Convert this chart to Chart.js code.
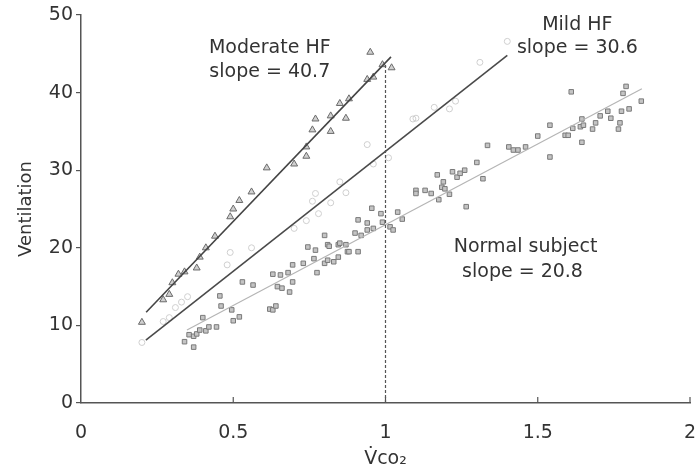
<!DOCTYPE html>
<html>
<head>
<meta charset="utf-8">
<script src="https://cdn.jsdelivr.net/npm/chart.js"></script>
<style>
  html, body { margin: 0; padding: 0; background: #fff; }
  #wrap { width: 698px; height: 474px; }
</style>
</head>
<body>
<div id="wrap"><canvas id="vePlot"></canvas></div>
<script>
  // points: [VCO2, ventilation]
  const moderateHF = [[0.20,10.4],[0.27,13.3],[0.29,14.0],[0.30,15.5],[0.32,16.6],[0.34,16.9],[0.38,17.4],[0.39,18.8],[0.41,20.0],[0.44,21.5],[0.49,24.0],[0.50,25.0],[0.52,26.1],[0.56,27.2],[0.61,30.3],[0.70,30.8],[0.74,31.8],[0.74,33.0],[0.76,35.2],[0.77,36.6],[0.82,37.0],[0.82,35.0],[0.87,36.7],[0.85,38.6],[0.88,39.2],[0.94,41.7],[0.96,42.0],[0.95,45.2],[0.99,43.6],[1.02,43.2]];
  const mildHF = [[0.20,7.8],[0.27,10.5],[0.29,11.0],[0.31,12.3],[0.33,13.0],[0.35,13.7],[0.48,17.8],[0.49,19.4],[0.56,20.0],[0.70,22.5],[0.74,23.5],[0.76,26.0],[0.77,27.0],[0.78,24.4],[0.82,25.8],[0.85,28.5],[0.87,27.1],[0.94,33.3],[0.96,30.8],[1.01,31.6],[1.09,36.6],[1.10,36.7],[1.16,38.1],[1.21,37.9],[1.23,38.9],[1.31,43.9],[1.40,46.6]];
  const normalSubject = [[0.34,7.9],[0.37,7.2],[0.355,8.8],[0.37,8.6],[0.38,8.9],[0.39,9.4],[0.41,9.3],[0.42,9.8],[0.445,9.8],[0.40,11.0],[0.456,13.8],[0.46,12.5],[0.495,12.0],[0.50,10.6],[0.52,11.1],[0.53,15.6],[0.565,15.2],[0.62,12.1],[0.63,12.0],[0.64,12.5],[0.63,16.6],[0.655,16.5],[0.68,16.8],[0.645,15.0],[0.66,14.8],[0.685,14.3],[0.695,17.8],[0.695,15.6],[0.73,18.0],[0.745,20.1],[0.77,19.7],[0.765,18.6],[0.775,16.8],[0.80,18.0],[0.81,18.4],[0.83,18.2],[0.845,18.8],[0.81,20.4],[0.845,20.4],[0.87,20.4],[0.80,21.6],[0.875,19.5],[0.85,20.6],[0.88,19.5],[0.91,19.5],[0.815,20.2],[0.90,21.9],[0.92,21.6],[0.94,22.3],[0.94,23.2],[0.96,22.5],[0.91,23.6],[0.955,25.1],[0.985,24.4],[1.04,24.6],[1.055,23.7],[1.015,22.7],[1.025,22.3],[0.99,23.3],[1.10,27.4],[1.10,27.0],[1.13,27.4],[1.15,27.0],[1.17,29.4],[1.175,26.2],[1.19,28.5],[1.185,27.8],[1.195,27.6],[1.21,26.9],[1.22,29.8],[1.235,29.1],[1.245,29.6],[1.26,30.0],[1.265,25.3],[1.30,31.0],[1.32,28.9],[1.335,33.2],[1.405,33.0],[1.42,32.6],[1.435,32.6],[1.46,33.0],[1.50,34.4],[1.54,35.8],[1.54,31.7],[1.59,34.5],[1.60,34.5],[1.61,40.1],[1.615,35.4],[1.64,35.6],[1.645,36.6],[1.65,35.8],[1.645,33.6],[1.68,35.3],[1.69,36.1],[1.705,37.0],[1.73,37.6],[1.74,36.7],[1.765,35.3],[1.77,36.1],[1.775,37.6],[1.80,37.9],[1.78,39.9],[1.79,40.8],[1.84,38.9]];

  // regression line end points
  const moderateFit = [[0.214,11.7],[1.018,44.6]];
  const mildFit = [[0.213,8.1],[1.40,44.8]];
  const normalFit = [[0.348,9.4],[1.842,40.5]];
  const thresholdLine = [[1.0,0],[1.0,43.6]];

  const xTicks = [0, 0.5, 1, 1.5, 2];
  const labels = [
    { x: 0.62, y: 45.8, text: 'Moderate HF' },
    { x: 0.62, y: 42.6, text: 'slope = 40.7' },
    { x: 1.63, y: 48.7, text: 'Mild HF' },
    { x: 1.63, y: 45.8, text: 'slope = 30.6' },
    { x: 1.46, y: 20.1, text: 'Normal subject' },
    { x: 1.45, y: 16.9, text: 'slope = 20.8' }
  ];

  const toXY = arr => arr.map(p => ({ x: p[0], y: p[1] }));
  const FONT = 'DejaVu Sans';
  const TXT = '#333';

  // text labels and inward x ticks, placed through the scales
  const extras = {
    id: 'extras',
    afterDraw(chart) {
      const { ctx, scales } = chart;
      ctx.save();
      ctx.strokeStyle = '#555';
      ctx.lineWidth = 1.2;
      xTicks.forEach(v => {
        if (v === 0) return;
        const px = scales.x.getPixelForValue(v);
        const py = scales.y.getPixelForValue(0);
        ctx.beginPath();
        ctx.moveTo(px, py);
        ctx.lineTo(px, py - 6);
        ctx.stroke();
      });
      ctx.fillStyle = TXT;
      ctx.font = '19px "' + FONT + '"';
      ctx.textAlign = 'center';
      ctx.textBaseline = 'middle';
      labels.forEach(l => {
        ctx.fillText(l.text, scales.x.getPixelForValue(l.x), scales.y.getPixelForValue(l.y));
      });
      ctx.restore();
    }
  };

  const lineDs = (pts, color, width, dash) => ({
    type: 'line',
    data: toXY(pts),
    borderColor: color,
    borderWidth: width,
    borderDash: dash || [],
    pointRadius: 0,
    fill: false
  });

  new Chart(document.getElementById('vePlot'), {
    type: 'scatter',
    data: {
      datasets: [
        lineDs(thresholdLine, '#555', 1.2, [3, 2]),
        lineDs(normalFit, '#b5b5b5', 1.2),
        lineDs(mildFit, '#4a4a4a', 1.6),
        lineDs(moderateFit, '#444', 1.6),
        {
          data: toXY(mildHF),
          pointStyle: 'circle',
          pointRadius: 3,
          borderWidth: 1,
          borderColor: '#cfcfcf',
          backgroundColor: 'rgba(255,255,255,0)'
        },
        {
          data: toXY(normalSubject),
          pointStyle: 'rect',
          pointRadius: 3.2,
          borderWidth: 1,
          borderColor: '#7a7a7a',
          backgroundColor: '#c4c4c4'
        },
        {
          data: toXY(moderateHF),
          pointStyle: 'triangle',
          pointRadius: 4,
          borderWidth: 1,
          borderColor: '#6a6a6a',
          backgroundColor: '#d0d0d0'
        }
      ]
    },
    options: {
      responsive: true,
      maintainAspectRatio: false,
      animation: false,
      layout: { padding: { left: 12, right: 0, top: 15, bottom: 0 } },
      plugins: {
        legend: { display: false },
        tooltip: { enabled: false }
      },
      scales: {
        x: {
          type: 'linear',
          min: 0,
          max: 2,
          afterBuildTicks: s => { s.ticks = xTicks.map(v => ({ value: v })); },
          afterFit: s => { s.height = 71; s.paddingRight = 8; },
          border: { color: '#555', width: 1.5 },
          grid: { display: false },
          ticks: {
            color: TXT,
            padding: 11,
            font: { family: FONT, size: 19 },
            callback: v => String(v)
          },
          title: {
            display: true,
            text: 'V\u0307co\u2082',
            color: TXT,
            padding: { top: 0 },
            font: { family: FONT, size: 19 }
          }
        },
        y: {
          min: 0,
          max: 50,
          afterFit: s => { s.width = 69; },
          border: { color: '#555', width: 1.5 },
          grid: { drawOnChartArea: false, tickLength: 5, color: '#555', lineWidth: 1.2 },
          ticks: {
            stepSize: 10,
            color: TXT,
            padding: 3,
            font: { family: FONT, size: 19 }
          },
          title: {
            display: true,
            text: 'Ventilation',
            color: TXT,
            padding: { bottom: 0 },
            font: { family: FONT, size: 18 }
          }
        }
      }
    },
    plugins: [extras]
  });
</script>
</body>
</html>
